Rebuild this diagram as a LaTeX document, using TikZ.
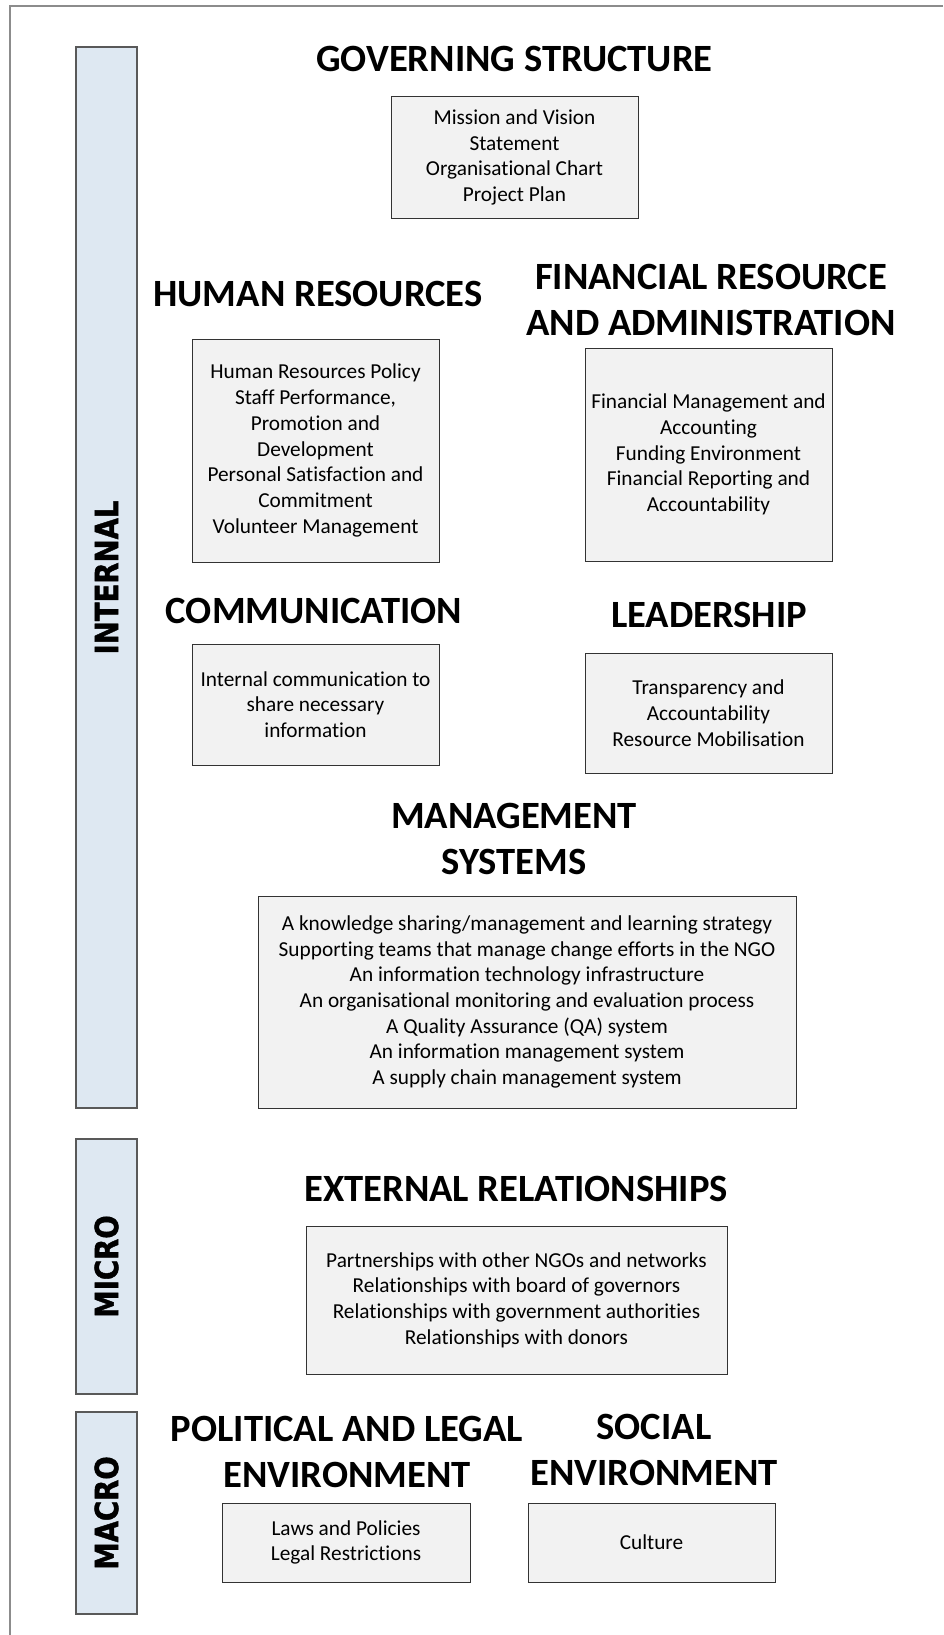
\documentclass[tikz,border=0pt]{standalone}
\usepackage{fontspec}
\setmainfont{Carlito}[Ligatures=NoCommon]
\newfontfamily\sidefont{DejaVu Sans}[FakeStretch=0.86,BoldFeatures={FakeBold=1.2}]
\definecolor{barfill}{HTML}{DEE8F2}
\definecolor{boxfill}{HTML}{F2F2F2}
\definecolor{framegray}{HTML}{8C8C8C}
\begin{document}
\begin{tikzpicture}[x=1pt,y=-1pt,
 bar/.style={draw=black!65,fill=barfill,line width=1.2pt,minimum width=61pt,inner sep=0},
 box/.style={draw=black!80,fill=boxfill,line width=1pt,align=center,inner sep=0,font=\fontsize{21.3}{25.7}\selectfont},
 title/.style={align=center,anchor=base,font=\fontsize{38.6}{46}\selectfont\bfseries,inner sep=0},
 side/.style={rotate=90,inner sep=0,font=\fontsize{32}{34}\sidefont\bfseries}]
\useasboundingbox (0,0) rectangle (943,1635);
\fill[white] (0,0) rectangle (943,1635);
\coordinate (fbl) at (10,1635);
\coordinate (ftl) at (10,6);
\coordinate (ftr) at (943,6);
\draw[framegray,line width=1.5pt] (fbl) -- (ftl) -- (ftr);

% side bars
\node[bar,minimum height=1061pt] (internal) at (106.5,577.5) {};
\node[side] (internalL) at (internal.center) {INTERNAL};
\node[bar,minimum height=255pt] (micro) at (106.5,1266.5) {};
\node[side] (microL) at (micro.center) {MICRO};
\node[bar,minimum height=202pt] (macro) at (106.5,1513) {};
\node[side] (macroL) at (macro.center) {MACRO};

% governing structure
\node[title] (govT) at (514.5,71.5) {GOVERNING STRUCTURE};
\node[box,minimum width=247pt,minimum height=121pt] (gov) at (514.5,157.5)
 {Mission and Vision\\Statement\\Organisational Chart\\Project Plan};

% human resources
\node[title] (hrT) at (318,306) {HUMAN RESOURCES};
\node[box,minimum width=247pt,minimum height=223pt] (hr) at (315.5,450.5)
 {Human Resources Policy\\Staff Performance,\\Promotion and\\Development\\Personal Satisfaction and\\Commitment\\Volunteer Management};

% financial
\node[title] (finT) at (711,335) {FINANCIAL RESOURCE\\AND ADMINISTRATION};
\node[box,minimum width=247pt,minimum height=213pt] (fin) at (708.5,454.5)
 {Financial Management and\\Accounting\\Funding Environment\\Financial Reporting and\\Accountability};

% communication
\node[title] (comT) at (314,623) {COMMUNICATION};
\node[box,minimum width=247pt,minimum height=121pt] (com) at (315.5,704.5)
 {Internal communication to\\share necessary\\information};

% leadership
\node[title] (leadT) at (709,627) {LEADERSHIP};
\node[box,minimum width=247pt,minimum height=120pt] (lead) at (708.5,713)
 {Transparency and\\Accountability\\Resource Mobilisation};

% management systems
\node[title] (mgmtT) at (514,874.5) {MANAGEMENT\\SYSTEMS};
\node[box,minimum width=538pt,minimum height=212pt] (mgmt) at (527,1002)
 {A knowledge sharing/management and learning strategy\\Supporting teams that manage change efforts in the NGO\\An information technology infrastructure\\An organisational monitoring and evaluation process\\A Quality Assurance (QA) system\\An information management system\\A supply chain management system};

% external relationships
\node[title] (extT) at (516,1201) {EXTERNAL RELATIONSHIPS};
\node[box,minimum width=421pt,minimum height=148pt] (ext) at (516.5,1300)
 {Partnerships with other NGOs and networks\\Relationships with board of governors\\Relationships with government authorities\\Relationships with donors};

% political and legal
\node[title] (polT) at (347,1487) {POLITICAL AND LEGAL\\ENVIRONMENT};
\node[box,minimum width=248pt,minimum height=79pt] (pol) at (346,1542.5)
 {Laws and Policies\\Legal Restrictions};

% social
\node[title] (socT) at (654,1485) {SOCIAL\\ENVIRONMENT};
\node[box,minimum width=247pt,minimum height=79pt] (soc) at (651.5,1542.5)
 {Culture};
\end{tikzpicture}
\end{document}
